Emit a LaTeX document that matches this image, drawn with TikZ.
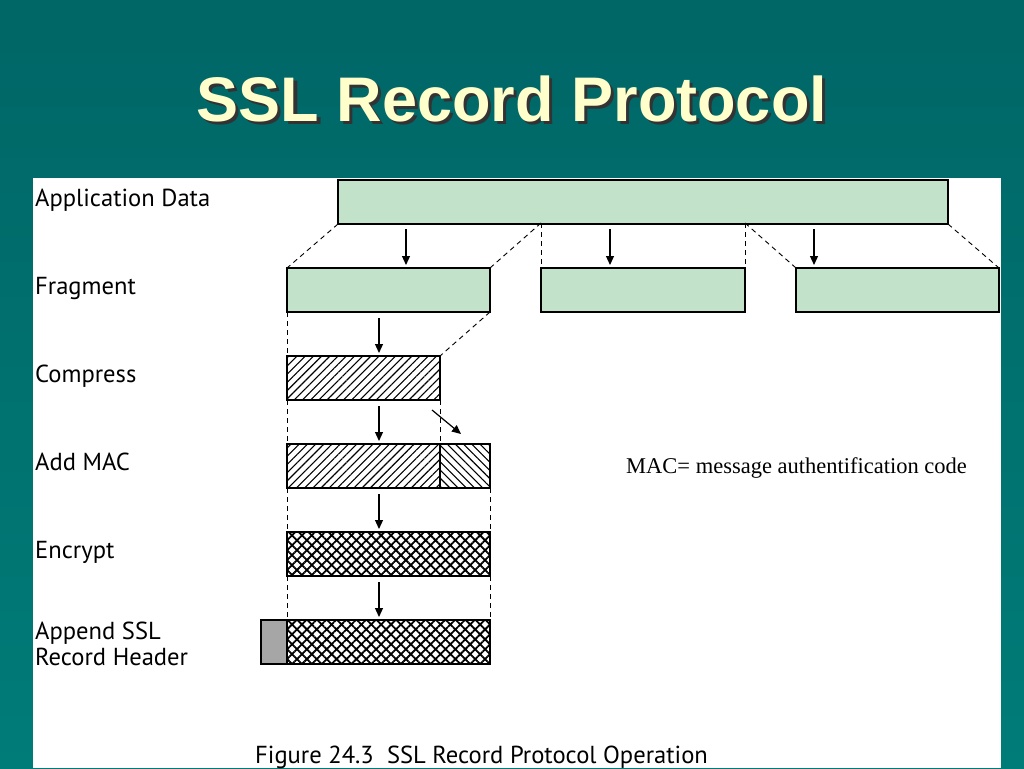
\documentclass[tikz,border=0pt]{standalone}
\usepackage{fontspec}
\setmainfont{PT Sans}
\newfontfamily\titlefont{Liberation Sans}
\newfontfamily\notefont{Liberation Serif}
\usetikzlibrary{patterns.meta,arrows.meta}
\definecolor{tealtop}{HTML}{006666}
\definecolor{tealbot}{HTML}{007C78}
\definecolor{paleGreen}{HTML}{C2E2CA}
\definecolor{hdrgray}{HTML}{A6A6A6}
\definecolor{cream}{HTML}{FFFFCC}
\begin{document}
\begin{tikzpicture}[x=1pt,y=-1pt,
  rec/.style={draw,line width=1.8pt,inner sep=0pt,outer sep=0pt,anchor=north west,minimum height=44pt},
  plain/.style={rec,fill=paleGreen},
  slash/.style={rec,pattern={Lines[angle=45,distance=5.8pt,line width=1.1pt]}},
  backslash/.style={rec,pattern={Lines[angle=-45,distance=5.8pt,line width=1.1pt]}},
  cross/.style={rec,pattern={Hatch[angle=45,distance=7pt,line width=1.8pt]}},
  guide/.style={dash pattern=on 5pt off 4pt,line width=0.9pt},
  arr/.style={line width=1.2pt,-{Triangle[length=9pt,width=8pt]}},
  lbl/.style={anchor=base west,font=\fontsize{24.6}{27}\selectfont,inner sep=0pt}]
  \useasboundingbox (0,0) rectangle (1024,768);
  % slide background and panel
  \shade[top color=tealtop,bottom color=tealbot] (0,0) rectangle (1024,768);
  \fill[white] (33,178) rectangle (1001,768);
  \node[anchor=base,text=cream,font=\titlefont\bfseries\fontsize{63}{70}\selectfont,inner sep=0pt] (title) at (512,121)
    {\makebox[0pt][l]{\kern3pt\raisebox{-3pt}{\color{black!80}SSL Record Protocol}}SSL Record Protocol};
  % row labels
  \node[lbl] (lapp) at (35,206) {Application Data};
  \node[lbl] (lfrag) at (35,294) {Fragment};
  \node[lbl] (lcomp) at (35,382) {Compress};
  \node[lbl] (lmac) at (35,470) {Add MAC};
  \node[lbl] (lenc) at (35,558) {Encrypt};
  \node[lbl] (lapp1) at (35,639) {Append SSL};
  \node[lbl] (lapp2) at (35,665) {Record Header};
  % records
  \node[plain,minimum width=610pt] (app) at (338,180) {};
  \node[plain,minimum width=203pt] (frag1) at (287,268) {};
  \node[plain,minimum width=204pt] (frag2) at (541,268) {};
  \node[plain,minimum width=203pt] (frag3) at (796,268) {};
  \node[slash,minimum width=153pt] (comp) at (287,356) {};
  \node[slash,minimum width=153pt] (maca) at (287,444) {};
  \node[backslash,minimum width=50pt] (macb) at (440,444) {};
  \node[cross,minimum width=203pt] (enc) at (287,532) {};
  \node[rec,fill=hdrgray,minimum width=26pt] (hdr) at (261,620) {};
  \node[cross,minimum width=203pt] (ssl) at (287,620) {};
  % fragmentation guides
  \coordinate (cut1) at (541,223);
  \coordinate (cut2) at (745,223);
  \draw[guide] (app.south west) -- (frag1.north west);
  \draw[guide] (cut1) -- (frag1.north east);
  \draw[guide] (cut1) -- (frag2.north west);
  \draw[guide] (cut2) -- (frag2.north east);
  \draw[guide] (cut2) -- (frag3.north west);
  \draw[guide] (app.south east) -- (frag3.north east);
  \draw[arr] (406,229) -- (406,265);
  \draw[arr] (610,229) -- (610,265);
  \draw[arr] (814,229) -- (814,265);
  % processing steps
  \draw[guide] (frag1.south west) -- (comp.north west);
  \draw[guide] (frag1.south east) -- (comp.north east);
  \draw[guide] (comp.south west) -- (maca.north west);
  \draw[guide] (comp.south east) -- (maca.north east);
  \draw[guide] (maca.south west) -- (enc.north west);
  \draw[guide] (macb.south east) -- (enc.north east);
  \draw[guide] (enc.south west) -- (ssl.north west);
  \draw[guide] (enc.south east) -- (ssl.north east);
  \draw[arr] (379,318) -- (379,353);
  \draw[arr] (379,406) -- (379,441);
  \draw[arr] (432,410) -- (461,434);
  \draw[arr] (379,494) -- (379,529);
  \draw[arr] (379,582) -- (379,617);
  % notes
  \node[anchor=base west,font=\notefont\fontsize{22.5}{26}\selectfont,inner sep=0pt] (note) at (626,473) {MAC= message authentification code};
  \node[lbl] (caption) at (255,763) {Figure 24.3\ \ SSL Record Protocol Operation};
\end{tikzpicture}
\end{document}
